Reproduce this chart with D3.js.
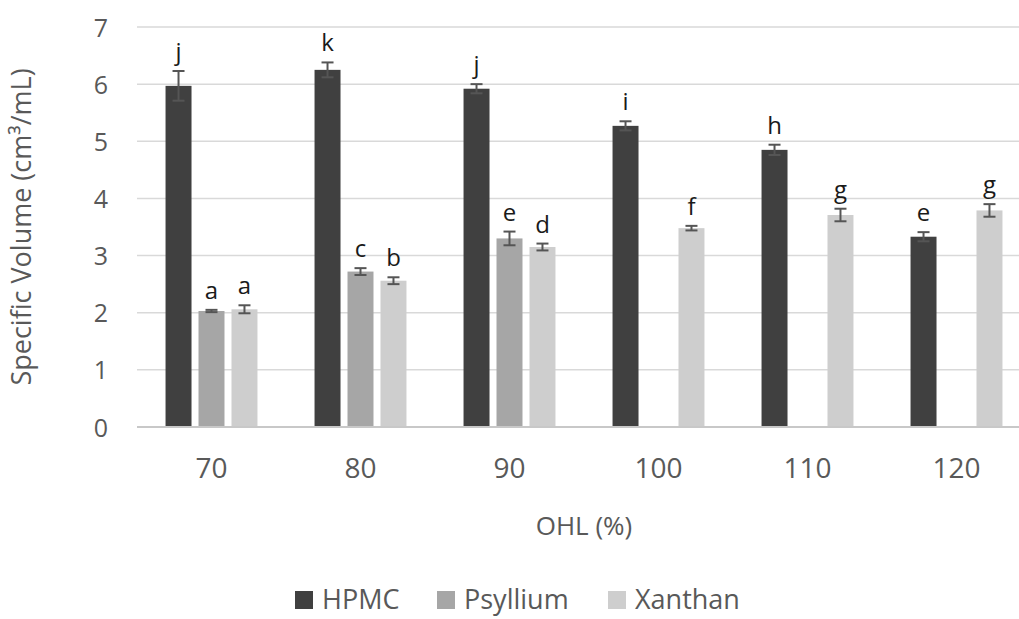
<!DOCTYPE html>
<html>
<head>
<meta charset="utf-8">
<script src="https://cdn.jsdelivr.net/npm/d3@7"></script>
<style>
  body { margin: 0; background: #fff; }
  text { font-family: "Open Sans", sans-serif; }
</style>
</head>
<body>
<div id="chart"></div>
<script>
// data
const categories = ["70", "80", "90", "100", "110", "120"];
const seriesNames = ["HPMC", "Psyllium", "Xanthan"];

const hpmc = [5.97, 6.25, 5.92, 5.27, 4.85, 3.33];
const hpmcErr = [0.26, 0.13, 0.08, 0.08, 0.09, 0.08];
const hpmcLetters = ["j", "k", "j", "i", "h", "e"];

const psyllium = [2.03, 2.72, 3.30, null, null, null];
const psylliumErr = [0.02, 0.06, 0.12, null, null, null];
const psylliumLetters = ["a", "c", "e", null, null, null];

const xanthan = [2.06, 2.56, 3.15, 3.48, 3.71, 3.79];
const xanthanErr = [0.07, 0.06, 0.06, 0.04, 0.11, 0.11];
const xanthanLetters = ["a", "b", "d", "f", "g", "g"];

const yTicks = [0, 1, 2, 3, 4, 5, 6, 7];

const colors = ["#404040", "#a6a6a6", "#cecece"];

const width = 1019, height = 619;
const plot = {left: 137, right: 1031, top: 27, bottom: 427};

const series = [
  {name: seriesNames[0], values: hpmc, err: hpmcErr, letters: hpmcLetters},
  {name: seriesNames[1], values: psyllium, err: psylliumErr, letters: psylliumLetters},
  {name: seriesNames[2], values: xanthan, err: xanthanErr, letters: xanthanLetters}
];

// flatten into one row per bar
const bars = [];
series.forEach((s, si) => {
  categories.forEach((c, ci) => {
    if (s.values[ci] == null) return;
    bars.push({cat: c, key: s.name, si: si, value: s.values[ci], err: s.err[ci], letter: s.letters[ci]});
  });
});

const svg = d3.select("#chart").append("svg")
  .attr("width", width)
  .attr("height", height);

const x0 = d3.scaleBand().domain(categories)
  .range([plot.left, plot.right])
  .paddingInner(0.383).paddingOuter(0.1915);
const x1 = d3.scaleBand().domain(seriesNames)
  .range([0, x0.bandwidth()])
  .paddingInner(0.212);
const y = d3.scaleLinear().domain([0, 7]).range([plot.bottom, plot.top]);

// gridlines
svg.append("g")
  .selectAll("line")
  .data(yTicks.filter(d => d > 0))
  .enter().append("line")
    .attr("x1", plot.left).attr("x2", width)
    .attr("y1", d => y(d)).attr("y2", d => y(d))
    .attr("stroke", "#d9d9d9")
    .attr("stroke-width", 1.5);

// y axis labels
const yAxis = svg.append("g")
  .attr("transform", "translate(" + (plot.left - 29) + ",0)")
  .call(d3.axisLeft(y).tickValues(yTicks).tickFormat(d3.format("d")).tickSize(0).tickPadding(0));
yAxis.select(".domain").remove();
yAxis.selectAll("text")
  .attr("fill", "#595959")
  .attr("font-size", 25)
  .attr("dy", "0.36em");

// bars
svg.append("g")
  .selectAll("rect")
  .data(bars)
  .enter().append("rect")
    .attr("x", d => x0(d.cat) + x1(d.key))
    .attr("y", d => y(d.value))
    .attr("width", x1.bandwidth())
    .attr("height", d => y(0) - y(d.value))
    .attr("fill", d => colors[d.si]);

// x axis
const xAxis = svg.append("g")
  .attr("transform", "translate(0," + plot.bottom + ")")
  .call(d3.axisBottom(x0).tickSize(0).tickPadding(31));
xAxis.select(".domain")
  .attr("d", "M" + plot.left + ",0H" + width)
  .attr("stroke", "#c8c8c8")
  .attr("stroke-width", 2);
xAxis.selectAll("text")
  .attr("fill", "#595959")
  .attr("font-size", 28)
  .attr("dy", "0.71em");

// error bars
const eb = svg.append("g")
  .attr("stroke", "#555")
  .attr("stroke-width", 2)
  .selectAll("g")
  .data(bars)
  .enter().append("g")
    .attr("transform", d => "translate(" + (x0(d.cat) + x1(d.key) + x1.bandwidth() / 2) + ",0)");
eb.append("line")
  .attr("y1", d => y(d.value - d.err)).attr("y2", d => y(d.value + d.err));
eb.append("line")
  .attr("x1", -6).attr("x2", 6)
  .attr("y1", d => y(d.value + d.err)).attr("y2", d => y(d.value + d.err));
eb.append("line")
  .attr("x1", -6).attr("x2", 6)
  .attr("y1", d => y(d.value - d.err)).attr("y2", d => y(d.value - d.err));

// significance letters
svg.append("g")
  .selectAll("text")
  .data(bars)
  .enter().append("text")
    .attr("x", d => x0(d.cat) + x1(d.key) + x1.bandwidth() / 2)
    .attr("y", d => y(d.value + d.err) - 11)
    .attr("text-anchor", "middle")
    .attr("font-size", 24)
    .attr("fill", "#1a1a1a")
    .text(d => d.letter);

// axis titles
svg.append("text")
  .attr("transform", "translate(31,227) rotate(-90)")
  .attr("text-anchor", "middle")
  .attr("font-size", 27)
  .attr("fill", "#595959")
  .text("Specific Volume (cm³/mL)");

svg.append("text")
  .attr("x", 584).attr("y", 535)
  .attr("text-anchor", "middle")
  .attr("font-size", 26)
  .attr("fill", "#595959")
  .text("OHL (%)");

// legend
const legendX = [295, 437, 608];
const legend = svg.append("g")
  .selectAll("g")
  .data(seriesNames)
  .enter().append("g")
    .attr("transform", (d, i) => "translate(" + legendX[i] + ",591)");
legend.append("rect")
  .attr("width", 18).attr("height", 18)
  .attr("fill", (d, i) => colors[i]);
legend.append("text")
  .attr("x", 27).attr("y", 18)
  .attr("font-size", 27)
  .attr("fill", "#595959")
  .text(d => d);
</script>
</body>
</html>
